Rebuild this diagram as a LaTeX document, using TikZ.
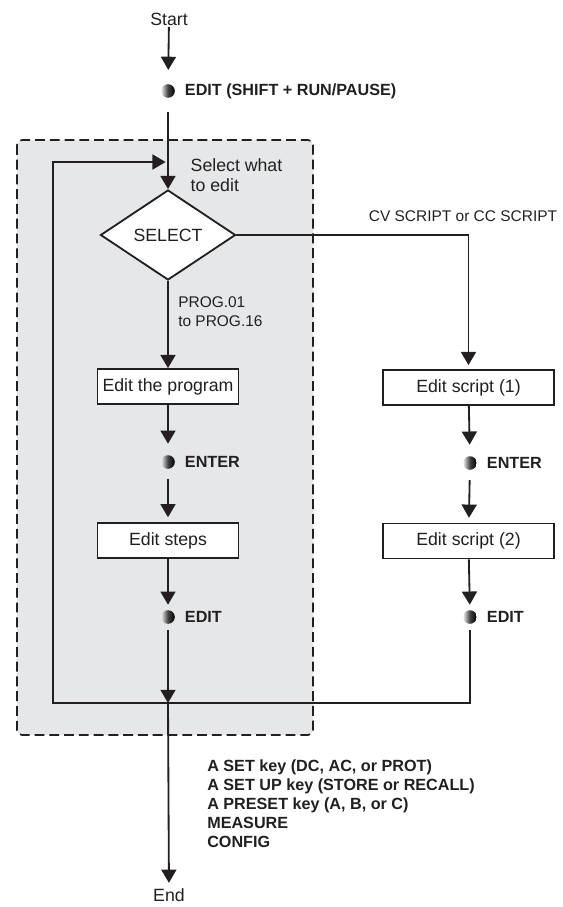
\documentclass[tikz,border=0pt]{standalone}
\usepackage{fontspec}
\setmainfont{Liberation Sans}
\usetikzlibrary{positioning,shapes.geometric,arrows.meta}
\definecolor{Ink}{HTML}{231F20}
\definecolor{Panel}{HTML}{E6E7E8}

\tikzset{
  flow/.style={line width=1.3pt,draw=Ink,-{Triangle[width=3.75mm,length=3.3mm]}},
  stepbox/.style={draw=Ink,line width=1.3pt,fill=white,minimum height=8.75mm,inner sep=1pt,
    font=\fontsize{12.6}{15}\selectfont,text=Ink},
  keydot/.style={circle,minimum size=3.4mm,inner sep=0pt,left color=black!8,right color=black,middle color=black!75},
  keytxt/.style={font=\fontsize{11.5}{13.5}\selectfont\bfseries,text=Ink,inner sep=0pt,align=left},
  note/.style={font=\fontsize{11}{13.5}\selectfont,text=Ink,inner sep=0pt,align=left},
  term/.style={font=\fontsize{12.6}{14.5}\selectfont,text=Ink,inner sep=1pt,align=left},
}

\begin{document}
\begin{tikzpicture}[x=0.025cm,y=-0.025cm]
    \useasboundingbox (0,0) rectangle (562,907);
    % shaded program area
    \draw[fill=Panel,draw=Ink,line width=1.2pt,dash pattern=on 7pt off 3.5pt,rounded corners=3.5pt]
      (17,140) rectangle (313,735);

    \node[term] (start) at (169,19) {Start};
    \node[term] (end) at (169,895) {End};
    \node[diamond,draw=Ink,line width=1.3pt,fill=white,minimum width=3.375cm,minimum height=2.25cm,
      inner sep=0pt,font=\fontsize{12.6}{15}\selectfont,text=Ink] (sel) at (168,235) {SELECT};
    \node[stepbox,minimum width=3.525cm] (prog) at (168,386.5) {Edit the program};
    \node[stepbox,minimum width=3.525cm] (steps) at (168,540.5) {Edit steps};
    \node[stepbox,minimum width=4.275cm] (scr1) at (468.5,387.5) {Edit script (1)};
    \node[stepbox,minimum width=4.275cm] (scr2) at (468.5,541) {Edit script (2)};

    \foreach \n/\x/\y/\t in {k1/168/91/{EDIT (SHIFT + RUN/PAUSE)},k2/168/462/ENTER,k3/168/617/EDIT,
                             k4/470/463/ENTER,k5/470/617/EDIT}{
      \node[keydot] (\n) at (\x,\y) {};
      \node[keytxt,right=2.4mm of \n] (\n-t) {\t};
    }

    \node[term,anchor=west] (what) at (189,175) {Select what\\to edit};
    \node[note,anchor=west] (range) at (178,312) {PROG.01\\to PROG.16};
    \node[note] (cvcc) at (463,216) {CV SCRIPT or CC SCRIPT};
    \node[keytxt,anchor=west] (exits) at (207,804)
      {A SET key (DC, AC, or PROT)\\A SET UP key (STORE or RECALL)\\A PRESET key (A, B, or C)\\MEASURE\\CONFIG};

    \coordinate (merge) at (168,703);
    \coordinate (corner) at (53,703);
    \coordinate (back) at (168,162);

    \draw[flow,shorten >=3.5mm] (start) -- (k1);
    \draw[flow,shorten <=3.5mm] (k1) -- (sel);
    \draw[flow] (sel) -- (prog);
    \draw[flow,shorten >=2.8mm] (prog) -- (k2);
    \draw[flow,shorten <=2.5mm,shorten >=1.2mm] (k2) -- (steps);
    \draw[flow,shorten >=1.3mm] (steps) -- (k3);
    \draw[flow,shorten <=1.5mm] (k3) -- (merge);
    \draw[flow,shorten >=1mm] (sel.east) -| (scr1);
    \draw[flow,shorten >=2.8mm] (scr1) -- (k4);
    \draw[flow,shorten <=2.5mm,shorten >=1.2mm] (k4) -- (scr2);
    \draw[flow,shorten >=1.3mm] (scr2) -- (k5);
    \draw[flow,shorten <=1.5mm,shorten >=0.6mm] (k5) |- (corner) |- (back);
    \draw[flow,shorten >=1mm] (merge) -- (end);
  \end{tikzpicture}
\end{document}
